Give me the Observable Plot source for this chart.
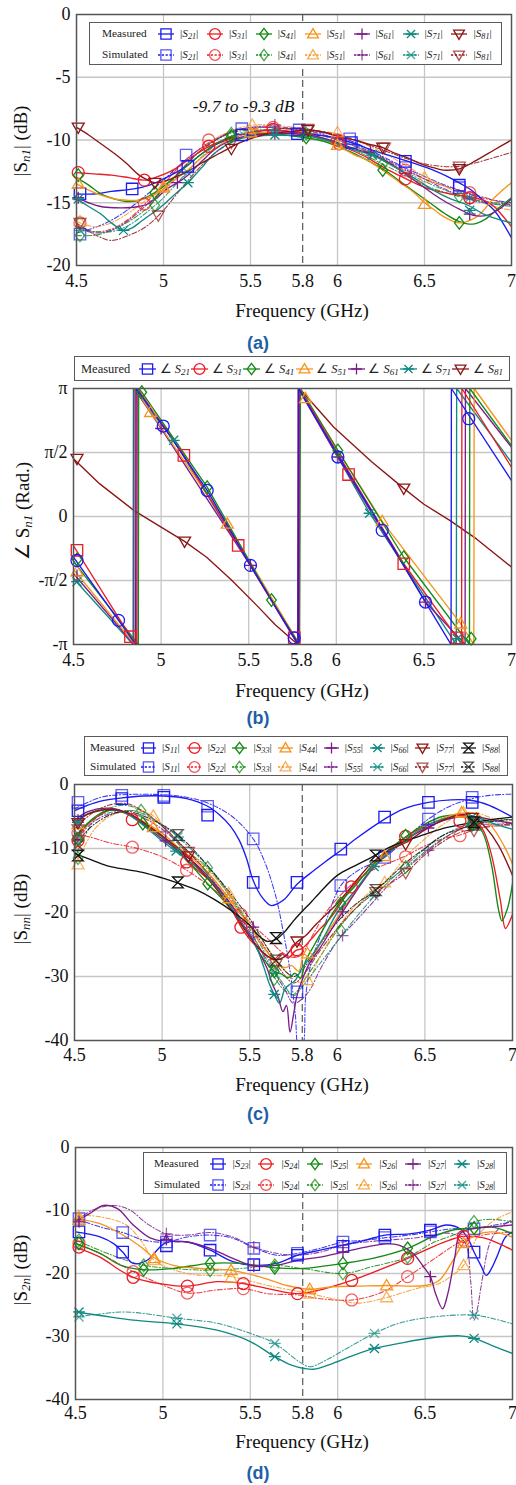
<!DOCTYPE html>
<html><head><meta charset="utf-8">
<script src="https://cdn.jsdelivr.net/npm/d3@7"></script>
<script src="https://cdn.jsdelivr.net/npm/@observablehq/plot@0.6"></script>
<style>
html,body{margin:0;padding:0;background:#fff;}
#root{position:relative;width:516px;height:1485px;overflow:hidden;font-family:"Liberation Serif","Times New Roman",serif;color:#111;}
#root svg text{font-family:"Liberation Serif","Times New Roman",serif;}
.cap{position:absolute;left:0;width:516px;text-align:center;font:bold 18px "Liberation Sans",Arial,sans-serif;color:#1f5fa6;line-height:1;transform:translateY(-50%);}
.legend{position:absolute;background:#fff;border:1.4px solid #5a5a5a;box-sizing:border-box;}
.legend .t{position:absolute;line-height:1;white-space:nowrap;transform:translateY(-50%);color:#222;}
.legend svg{position:absolute;overflow:visible;}
.sub{font-size:0.72em;font-style:italic;position:relative;top:0.3em;}
</style></head>
<body><div id="root"></div>
<script>
// ---------------- shared ----------------
const xTicks = [4.5, 5, 5.5, 5.8, 6, 6.5, 7];
const xGrid = [5, 5.5, 6, 6.5];
const COL = {blue:"#1b1bf2", red:"#ec1c24", green:"#138a13", orange:"#f7941d", purple:"#7b1d89", teal:"#108a80", brown:"#8c1616", black:"#111111"};

// ---------------- panel (a) |Sn1| ----------------
const aYTicks = [0, -5, -10, -15, -20];
const aYGrid = [-5, -10, -15];
const aAnnot = [{x: 5.46, y: -7.3, t: "-9.7 to -9.3 dB"}];
const aLabels = ["21","31","41","51","61","71","81"];
const aColors = ["blue","red","green","orange","purple","teal","brown"];
const aSyms = ["square","circle","diamond","triUp","plus","star","triDown"];

const a_m21 = [[4.5,-14.3],[4.6,-14.3],[4.7,-14.1],[4.83,-13.9],[4.92,-13.6],[5.0,-13.1],[5.07,-12.6],[5.14,-12.0],[5.22,-11.1],[5.31,-10.3],[5.38,-9.9],[5.44,-9.6],[5.52,-9.45],[5.6,-9.4],[5.7,-9.4],[5.77,-9.45],[5.88,-9.6],[5.98,-9.8],[6.08,-10.2],[6.2,-10.8],[6.36,-11.5],[6.45,-11.9],[6.55,-12.4],[6.63,-12.9],[6.71,-13.5],[6.77,-14.0],[6.82,-14.6],[6.9,-15.6],[6.95,-16.6],[7.0,-17.8]];
const a_m21_k = [[4.52,-14.3],[4.82,-13.9],[5.14,-12.1],[5.45,-9.6],[5.77,-9.5],[6.08,-10.2],[6.39,-11.7],[6.7,-13.6]];
const a_m31 = [[4.5,-12.6],[4.6,-12.7],[4.7,-12.8],[4.8,-13.0],[4.89,-13.2],[4.97,-12.9],[5.04,-12.5],[5.1,-12.0],[5.18,-11.2],[5.25,-10.6],[5.33,-10.1],[5.4,-9.8],[5.5,-9.4],[5.63,-9.2],[5.72,-9.3],[5.8,-9.4],[5.9,-9.8],[6.0,-10.3],[6.08,-10.8],[6.17,-11.4],[6.28,-12.3],[6.38,-13.0],[6.47,-13.6],[6.55,-14.0],[6.65,-14.3],[6.75,-14.5],[6.84,-14.8],[6.9,-15.3],[6.94,-15.9],[7.0,-16.9]];
const a_m31_k = [[4.51,-12.6],[4.89,-13.2],[5.26,-10.5],[5.63,-9.15],[6.01,-10.3],[6.39,-13.1],[6.76,-14.6]];
const a_m41 = [[4.5,-13.0],[4.57,-13.6],[4.64,-14.3],[4.72,-14.7],[4.79,-14.9],[4.86,-14.8],[4.91,-14.5],[4.98,-13.9],[5.06,-13.0],[5.14,-12.0],[5.22,-11.1],[5.29,-10.4],[5.36,-9.9],[5.42,-9.6],[5.5,-9.5],[5.6,-9.5],[5.7,-9.6],[5.81,-9.8],[5.92,-10.1],[6.02,-10.6],[6.1,-11.1],[6.17,-11.6],[6.27,-12.4],[6.36,-13.3],[6.46,-14.3],[6.55,-15.2],[6.62,-15.9],[6.7,-16.5],[6.78,-16.7],[6.85,-16.3],[6.92,-15.5],[7.0,-14.6]];
const a_m41_k = [[4.51,-12.8],[4.95,-14.2],[5.39,-9.7],[5.82,-9.8],[6.26,-12.4],[6.7,-16.6]];
const a_m51 = [[4.5,-13.5],[4.57,-14.0],[4.64,-14.4],[4.72,-14.7],[4.79,-14.8],[4.86,-14.8],[4.93,-14.5],[5.02,-13.7],[5.1,-12.8],[5.14,-12.4],[5.22,-11.4],[5.29,-10.7],[5.36,-10.1],[5.44,-9.6],[5.52,-9.45],[5.63,-9.4],[5.75,-9.5],[5.83,-9.6],[5.93,-10.0],[6.02,-10.6],[6.1,-11.2],[6.17,-11.6],[6.27,-12.5],[6.36,-13.4],[6.44,-14.2],[6.51,-15.1],[6.56,-15.6],[6.61,-16.1],[6.7,-16.6],[6.79,-16.2],[6.84,-15.6],[6.88,-14.9],[6.94,-14.1],[7.0,-13.4]];
const a_m51_k = [[4.51,-13.5],[5.0,-13.8],[5.5,-9.4],[6.0,-10.4],[6.5,-15.1]];
const a_m61 = [[4.5,-14.6],[4.57,-15.0],[4.64,-15.3],[4.72,-15.4],[4.79,-15.4],[4.86,-15.3],[4.91,-15.1],[4.97,-14.5],[5.02,-13.9],[5.08,-13.4],[5.14,-12.8],[5.22,-11.7],[5.29,-10.8],[5.36,-10.2],[5.44,-9.8],[5.52,-9.6],[5.64,-9.5],[5.75,-9.5],[5.83,-9.6],[5.93,-9.9],[6.02,-10.3],[6.1,-10.7],[6.19,-11.1],[6.27,-11.6],[6.36,-12.4],[6.46,-13.4],[6.55,-14.3],[6.63,-15.0],[6.7,-15.5],[6.78,-16.0],[6.86,-16.0],[6.93,-15.5],[7.0,-14.7]];
const a_m61_k = [[4.51,-14.6],[5.08,-13.4],[5.64,-9.5],[6.19,-11.0],[6.76,-15.9]];
const a_m71 = [[4.5,-14.7],[4.57,-15.3],[4.64,-15.9],[4.7,-16.6],[4.77,-17.2],[4.82,-17.0],[4.87,-16.5],[4.93,-15.9],[4.98,-15.4],[5.06,-14.4],[5.14,-13.4],[5.22,-12.2],[5.29,-11.1],[5.36,-10.4],[5.44,-9.9],[5.52,-9.7],[5.64,-9.6],[5.75,-9.65],[5.83,-9.7],[5.93,-10.0],[6.02,-10.4],[6.1,-10.8],[6.2,-11.2],[6.27,-11.7],[6.36,-12.4],[6.46,-13.2],[6.55,-14.0],[6.65,-14.7],[6.75,-15.2],[6.84,-15.9],[6.92,-16.3],[7.0,-16.6]];
const a_m71_k = [[4.51,-14.7],[4.77,-17.2],[5.14,-13.4],[5.64,-9.6],[6.2,-11.2],[6.76,-15.6]];
const a_m81 = [[4.5,-9.0],[4.57,-9.6],[4.64,-10.3],[4.72,-11.1],[4.79,-11.9],[4.86,-12.8],[4.91,-13.2],[4.95,-13.4],[5.0,-13.3],[5.06,-13.0],[5.14,-12.5],[5.21,-11.9],[5.29,-11.3],[5.37,-10.7],[5.44,-10.2],[5.52,-9.8],[5.6,-9.5],[5.67,-9.4],[5.75,-9.3],[5.83,-9.2],[5.93,-9.4],[6.02,-9.8],[6.1,-10.0],[6.17,-10.3],[6.26,-10.6],[6.32,-11.0],[6.4,-11.4],[6.48,-11.9],[6.55,-12.2],[6.61,-12.4],[6.7,-12.3],[6.8,-11.6],[6.9,-10.8],[7.0,-10.0]];
const a_m81_k = [[4.51,-9.0],[4.95,-13.4],[5.39,-10.7],[5.83,-9.2],[6.26,-10.6],[6.7,-12.3]];

const a_s21 = [[4.5,-17.4],[4.6,-17.0],[4.7,-16.4],[4.8,-15.5],[4.9,-14.4],[5.0,-13.2],[5.1,-11.9],[5.2,-10.8],[5.3,-10.0],[5.4,-9.3],[5.5,-9.0],[5.6,-9.0],[5.7,-9.1],[5.8,-9.2],[5.9,-9.4],[6.0,-9.7],[6.1,-10.2],[6.2,-10.9],[6.3,-11.6],[6.4,-12.3],[6.5,-12.9],[6.6,-13.5],[6.7,-14.0],[6.8,-14.5],[6.9,-14.8],[7.0,-15.0]];
const a_s21_k = [[4.52,-17.5],[5.13,-11.2],[5.45,-9.1],[5.78,-9.2],[6.07,-9.9],[6.39,-12.2],[6.7,-13.8]];
const a_s31 = [[4.5,-16.8],[4.6,-17.3],[4.7,-17.1],[4.8,-16.3],[4.9,-15.0],[5.0,-13.5],[5.1,-12.0],[5.2,-10.8],[5.3,-9.9],[5.4,-9.3],[5.5,-9.1],[5.6,-9.0],[5.7,-9.1],[5.8,-9.3],[5.9,-9.6],[6.0,-10.0],[6.1,-10.5],[6.2,-11.1],[6.3,-11.8],[6.4,-12.5],[6.5,-13.1],[6.6,-13.6],[6.7,-14.0],[6.8,-14.4],[6.9,-14.8],[7.0,-15.2]];
const a_s31_k = [[4.52,-16.6],[4.89,-15.1],[5.26,-10.0],[5.63,-9.0],[6.0,-10.0],[6.39,-12.4],[6.76,-14.2]];
const a_s41 = [[4.5,-17.6],[4.6,-17.6],[4.7,-17.2],[4.8,-16.5],[4.9,-15.5],[5.0,-14.1],[5.1,-12.5],[5.2,-11.0],[5.3,-10.0],[5.4,-9.4],[5.5,-9.2],[5.6,-9.2],[5.7,-9.3],[5.8,-9.5],[5.9,-9.8],[6.0,-10.2],[6.1,-10.8],[6.2,-11.5],[6.3,-12.2],[6.4,-12.9],[6.5,-13.6],[6.6,-14.1],[6.7,-14.5],[6.8,-14.8],[6.9,-15.0],[7.0,-15.1]];
const a_s41_k = [[4.52,-17.6],[4.95,-15.2],[5.39,-9.5],[5.82,-9.5],[6.26,-11.9],[6.7,-14.5]];
const a_s51 = [[4.5,-16.5],[4.6,-16.9],[4.7,-16.6],[4.8,-15.8],[4.9,-14.8],[5.0,-13.7],[5.1,-12.4],[5.2,-11.0],[5.3,-9.9],[5.4,-9.2],[5.5,-8.85],[5.6,-8.8],[5.7,-8.9],[5.8,-9.1],[5.9,-9.3],[6.0,-9.5],[6.1,-10.0],[6.2,-10.6],[6.3,-11.3],[6.4,-12.1],[6.5,-12.9],[6.6,-13.6],[6.7,-14.2],[6.8,-14.8],[6.9,-15.3],[7.0,-15.6]];
const a_s51_k = [[4.52,-16.5],[5.0,-13.7],[5.51,-8.8],[6.0,-9.4],[6.5,-13.0]];
const a_s61 = [[4.5,-16.9],[4.6,-17.4],[4.7,-17.2],[4.8,-16.4],[4.9,-15.2],[5.0,-13.9],[5.1,-12.4],[5.2,-11.0],[5.3,-10.0],[5.4,-9.3],[5.5,-9.0],[5.6,-8.9],[5.7,-9.0],[5.8,-9.2],[5.9,-9.5],[6.0,-9.9],[6.1,-10.4],[6.2,-11.0],[6.3,-11.7],[6.4,-12.4],[6.5,-13.1],[6.6,-13.8],[6.7,-14.4],[6.8,-14.9],[6.9,-15.1],[7.0,-15.2]];
const a_s61_k = [[5.08,-12.6],[5.64,-8.8],[6.19,-10.9],[6.76,-14.7]];
const a_s71 = [[4.5,-17.0],[4.6,-17.3],[4.7,-17.3],[4.8,-16.8],[4.9,-15.8],[5.0,-14.6],[5.1,-13.1],[5.2,-11.6],[5.3,-10.4],[5.4,-9.6],[5.5,-9.3],[5.6,-9.2],[5.7,-9.3],[5.8,-9.4],[5.9,-9.6],[6.0,-10.0],[6.1,-10.5],[6.2,-11.2],[6.3,-11.9],[6.4,-12.6],[6.5,-13.3],[6.6,-13.9],[6.7,-14.4],[6.8,-14.8],[6.9,-15.1],[7.0,-15.3]];
const a_s71_k = [[4.52,-17.2],[5.14,-12.6],[5.64,-9.2],[6.2,-11.2],[6.76,-14.6]];
const a_s81 = [[4.5,-16.6],[4.6,-17.5],[4.7,-18.0],[4.8,-17.6],[4.9,-16.9],[5.0,-15.6],[5.1,-13.9],[5.2,-12.3],[5.3,-11.0],[5.4,-10.1],[5.5,-9.5],[5.6,-9.2],[5.7,-9.1],[5.8,-9.1],[5.9,-9.3],[6.0,-9.6],[6.1,-10.0],[6.2,-10.5],[6.3,-11.0],[6.4,-11.5],[6.5,-11.9],[6.6,-12.1],[6.7,-12.1],[6.8,-11.8],[6.9,-11.4],[7.0,-11.0]];
const a_s81_k = [[4.52,-16.6],[4.97,-16.0],[5.39,-10.2],[5.83,-9.1],[6.27,-10.6],[6.7,-12.1]];

// ---------------- panel (b) angle Sn1 ----------------
const bYTicks = [-Math.PI, -Math.PI/2, 0, Math.PI/2, Math.PI];
const bYLabels = ["-π", "-π/2", "0", "π/2", "π"];
const bYGrid = [-Math.PI/2, 0, Math.PI/2];
const P = Math.PI;
const b_21 = [[4.5,-1.0],[4.757,-2.55],[4.855,-P],[4.857,P],[5.012,2.22],[5.263,0.64],[5.51,-1.2],[5.76,-2.98],[5.783,-P],[5.785,P],[6.009,1.5],[6.262,-0.3],[6.509,-2.1],[6.655,-P],[6.657,P],[7.0,0.88]];
const b_21_k = [[4.52,-1.08],[4.757,-2.55],[5.012,2.22],[5.263,0.64],[5.51,-1.2],[5.76,-2.98],[6.009,1.46],[6.262,-0.34],[6.509,-2.1],[6.756,2.4]];
const b_31 = [[4.5,-0.72],[4.825,-2.95],[4.862,-P],[4.864,P],[5.13,1.5],[5.44,-0.71],[5.76,-2.98],[5.787,-P],[5.789,P],[6.07,1.1],[6.385,-1.16],[6.69,-2.98],[6.715,-P],[6.717,P],[7.0,1.21]];
const b_31_k = [[4.52,-0.83],[4.825,-2.95],[5.13,1.5],[5.44,-0.71],[5.76,-2.98],[6.07,1.03],[6.385,-1.16],[6.69,-2.98]];
const b_41 = [[4.5,-1.1],[4.87,-P],[4.872,P],[4.89,3.05],[5.263,0.72],[5.63,-2.05],[5.79,-P],[5.795,P],[6.009,1.62],[6.385,-1.0],[6.76,-P],[6.762,P],[7.0,1.74]];
const b_41_k = [[4.52,-1.05],[4.89,3.05],[5.263,0.72],[5.63,-2.05],[6.009,1.62],[6.385,-1.0],[6.77,-3.0]];
const b_51 = [[4.5,-1.3],[4.85,-P],[4.852,P],[4.94,2.56],[5.378,-0.18],[5.79,-P],[5.792,P],[5.824,2.9],[6.262,-0.12],[6.71,-2.63],[6.785,-P],[6.787,P],[7.0,1.87]];
const b_51_k = [[4.52,-1.35],[4.94,2.56],[5.378,-0.18],[5.824,2.9],[6.262,-0.12],[6.71,-2.63]];
const b_61 = [[4.5,-1.4],[4.845,-P],[4.847,P],[5.0,2.16],[5.51,-1.2],[5.78,-P],[5.782,P],[6.009,1.46],[6.509,-2.1],[6.735,-P],[6.737,P],[7.0,1.7]];
const b_61_k = [[4.52,-1.45],[5.0,2.16],[5.51,-1.2],[6.009,1.46],[6.509,-2.1]];
const b_71 = [[4.5,-1.52],[4.84,-P],[4.842,P],[5.072,1.87],[5.63,-2.05],[5.785,-P],[5.787,P],[6.19,0.08],[6.685,-P],[6.687,P],[7.0,1.33]];
const b_71_k = [[4.52,-1.6],[5.072,1.87],[6.19,0.08],[6.69,-3.0]];
const b_81 = [[4.5,1.42],[4.65,0.8],[4.844,0.15],[5.0,-0.26],[5.134,-0.61],[5.26,-1.0],[5.4,-1.55],[5.55,-2.2],[5.65,-2.65],[5.78,-P],[5.79,P],[5.986,2.19],[6.2,1.35],[6.385,0.69],[6.5,0.3],[6.65,-0.1],[6.8,-0.55],[7.0,-1.24]];
const b_81_k = [[4.52,1.42],[5.134,-0.61],[6.385,0.69]];

// ---------------- panel (c) |Snn| ----------------
const cYTicks = [0, -10, -20, -30, -40];
const cYGrid = [-10, -20, -30];
const cLabels = ["11","22","33","44","55","66","77","88"];
const cColors = ["blue","red","green","orange","purple","teal","brown","black"];
const cSyms = ["square","circle","diamond","triUp","plus","star","triDown","hourglass"];

const c_m11 = [[4.5,-4.1],[4.57,-3.3],[4.65,-2.6],[4.77,-2.1],[4.89,-1.8],[5.01,-1.8],[5.14,-2.2],[5.26,-3.4],[5.33,-4.8],[5.39,-6.5],[5.44,-8.7],[5.48,-11.4],[5.52,-15.0],[5.57,-17.6],[5.62,-18.9],[5.66,-18.6],[5.7,-17.9],[5.77,-15.6],[5.84,-14.0],[5.93,-12.1],[6.02,-10.3],[6.12,-8.2],[6.27,-5.4],[6.38,-3.8],[6.52,-2.8],[6.65,-2.4],[6.77,-2.5],[6.87,-3.3],[7.0,-5.1]];
const c_m11_k = [[4.52,-4.1],[4.77,-2.2],[5.01,-2.0],[5.26,-4.8],[5.52,-15.3],[5.77,-15.3],[6.02,-10.1],[6.27,-5.1],[6.52,-2.8],[6.77,-2.8]];
const c_m22 = [[4.5,-8.8],[4.55,-7.0],[4.62,-5.2],[4.72,-3.9],[4.83,-5.0],[4.92,-6.5],[5.0,-8.0],[5.08,-10.0],[5.14,-11.9],[5.22,-13.8],[5.3,-15.7],[5.38,-18.5],[5.45,-22.2],[5.5,-24.2],[5.55,-25.6],[5.6,-26.8],[5.64,-27.3],[5.68,-26.4],[5.72,-27.1],[5.76,-26.0],[5.8,-25.6],[5.85,-24.2],[5.9,-22.6],[5.95,-21.2],[6.0,-19.4],[6.08,-16.2],[6.15,-14.2],[6.25,-11.5],[6.38,-8.4],[6.5,-6.5],[6.6,-5.5],[6.7,-5.1],[6.77,-5.4],[6.83,-7.0],[6.88,-11.0],[6.93,-18.0],[6.96,-22.5],[6.99,-21.0],[7.0,-20.3]];
const c_m22_k = [[4.52,-8.75],[4.83,-5.5],[5.14,-12.1],[5.45,-22.3],[5.77,-25.8],[6.08,-16.0],[6.39,-8.1],[6.7,-5.7]];
const c_m33 = [[4.5,-8.3],[4.56,-6.5],[4.63,-4.8],[4.72,-3.9],[4.82,-4.8],[4.89,-6.0],[5.0,-8.2],[5.1,-10.6],[5.18,-13.0],[5.26,-15.5],[5.34,-17.8],[5.42,-20.5],[5.5,-23.5],[5.56,-26.6],[5.6,-28.0],[5.64,-29.2],[5.68,-29.6],[5.72,-30.2],[5.76,-29.5],[5.79,-30.3],[5.82,-27.5],[5.86,-25.5],[5.92,-22.6],[6.0,-19.0],[6.1,-15.9],[6.2,-12.6],[6.3,-10.0],[6.39,-8.2],[6.5,-6.2],[6.6,-5.0],[6.7,-4.8],[6.77,-5.6],[6.83,-7.5],[6.88,-12.5],[6.92,-19.5],[6.94,-21.3],[6.97,-19.5],[7.0,-15.5]];
const c_m33_k = [[4.52,-8.5],[4.89,-6.1],[5.26,-15.5],[5.64,-29.2],[6.02,-18.6],[6.39,-8.0],[6.77,-6.1]];
const c_m44 = [[4.5,-6.2],[4.58,-4.6],[4.68,-3.8],[4.76,-4.0],[4.86,-5.3],[5.0,-7.6],[5.1,-10.0],[5.2,-12.2],[5.3,-15.0],[5.38,-17.8],[5.45,-20.3],[5.5,-22.0],[5.56,-24.8],[5.6,-26.2],[5.65,-27.9],[5.7,-28.6],[5.74,-28.3],[5.78,-29.2],[5.81,-26.5],[5.85,-27.4],[5.9,-25.0],[6.0,-20.8],[6.1,-16.8],[6.2,-13.0],[6.3,-10.4],[6.4,-8.4],[6.5,-6.6],[6.6,-5.3],[6.7,-4.5],[6.8,-4.7],[6.88,-6.5],[6.95,-9.5],[7.0,-12.4]];
const c_m44_k = [[4.52,-6.2],[4.95,-6.7],[5.38,-17.8],[5.83,-26.4],[6.27,-11.2],[6.71,-4.4]];
const c_m55 = [[4.5,-5.6],[4.58,-4.2],[4.7,-3.7],[4.8,-4.5],[5.0,-8.5],[5.1,-10.5],[5.2,-12.6],[5.3,-15.5],[5.4,-19.0],[5.46,-21.8],[5.5,-23.4],[5.55,-26.0],[5.6,-28.8],[5.63,-31.2],[5.66,-33.0],[5.69,-35.5],[5.71,-34.5],[5.73,-38.7],[5.75,-36.0],[5.77,-33.0],[5.8,-30.5],[5.84,-28.0],[5.9,-25.6],[6.0,-21.2],[6.1,-17.0],[6.2,-13.2],[6.3,-10.5],[6.4,-8.5],[6.5,-6.9],[6.6,-5.7],[6.7,-5.0],[6.8,-5.1],[6.9,-5.6],[7.0,-6.1]];
const c_m55_k = [[4.52,-5.6],[5.02,-8.8],[5.52,-22.3],[6.03,-19.9],[6.52,-6.8]];
const c_m66 = [[4.5,-5.9],[4.58,-4.5],[4.7,-3.9],[4.8,-4.6],[5.0,-8.8],[5.1,-10.9],[5.2,-13.0],[5.3,-15.8],[5.4,-19.4],[5.48,-22.8],[5.54,-25.5],[5.58,-28.5],[5.61,-31.0],[5.64,-32.8],[5.67,-34.2],[5.7,-32.0],[5.73,-31.2],[5.76,-30.6],[5.8,-28.6],[5.86,-26.5],[5.92,-24.0],[6.0,-20.0],[6.1,-16.6],[6.2,-13.1],[6.3,-10.5],[6.4,-8.5],[6.5,-6.6],[6.6,-5.4],[6.7,-4.9],[6.8,-5.2],[6.9,-6.2],[7.0,-7.0]];
const c_m66_k = [[4.52,-5.9],[5.08,-10.4],[5.64,-32.8],[6.21,-12.8],[6.77,-5.1]];
const c_m77 = [[4.5,-6.0],[4.58,-4.6],[4.7,-3.9],[4.8,-4.4],[5.0,-8.0],[5.15,-11.4],[5.3,-16.0],[5.4,-19.8],[5.45,-21.8],[5.5,-23.8],[5.55,-25.5],[5.6,-26.8],[5.65,-27.4],[5.7,-26.9],[5.74,-25.6],[5.77,-24.6],[5.82,-23.6],[5.88,-21.8],[6.0,-18.6],[6.1,-15.3],[6.2,-12.2],[6.3,-10.2],[6.39,-9.1],[6.5,-7.1],[6.6,-5.6],[6.7,-4.7],[6.77,-4.9],[6.85,-6.8],[6.92,-9.5],[7.0,-14.2]];
const c_m77_k = [[4.52,-6.0],[5.15,-11.2],[5.77,-24.5],[6.39,-9.3],[6.77,-5.2]];
const c_m88 = [[4.5,-10.8],[4.6,-11.8],[4.7,-12.8],[4.8,-13.3],[4.9,-13.8],[5.0,-14.6],[5.1,-15.5],[5.2,-16.5],[5.3,-18.0],[5.4,-19.8],[5.5,-22.0],[5.55,-23.6],[5.6,-24.5],[5.65,-24.2],[5.7,-23.0],[5.75,-21.3],[5.8,-19.8],[5.85,-18.4],[5.9,-16.9],[6.0,-14.2],[6.1,-12.7],[6.2,-11.3],[6.3,-9.8],[6.4,-8.7],[6.5,-7.8],[6.6,-6.9],[6.7,-6.3],[6.8,-5.8],[6.9,-5.4],[7.0,-5.1]];
const c_m88_k = [[4.52,-11.1],[5.09,-15.3],[5.65,-24.0],[6.22,-11.1],[6.78,-5.9]];

const c_s11 = [[4.5,-3.8],[4.65,-2.0],[4.77,-1.6],[5.01,-1.6],[5.14,-2.0],[5.26,-2.9],[5.4,-5.0],[5.52,-8.5],[5.59,-12.4],[5.65,-17.6],[5.69,-22.8],[5.73,-29.1],[5.76,-35.8],[5.78,-41],[5.8,-41],[5.82,-33],[5.85,-28],[5.93,-21.8],[6.02,-15.8],[6.12,-13.4],[6.27,-11.4],[6.4,-8.2],[6.52,-5.4],[6.65,-3.3],[6.77,-2.2],[6.87,-1.7],[7.0,-1.5]];
const c_s11_k = [[4.52,-2.8],[4.77,-1.7],[5.01,-1.7],[5.26,-3.4],[5.52,-8.5],[5.77,-32.4],[6.02,-15.8],[6.27,-11.4],[6.52,-5.4],[6.77,-2.0]];
const c_s22 = [[4.5,-7.6],[4.6,-8.3],[4.7,-9.1],[4.83,-9.8],[4.92,-10.5],[5.0,-11.3],[5.14,-13.4],[5.3,-16.5],[5.45,-20.3],[5.6,-24.0],[5.7,-26.5],[5.76,-27.0],[5.8,-26.3],[5.86,-23.5],[5.93,-20.2],[6.0,-17.8],[6.1,-15.2],[6.2,-13.4],[6.3,-12.2],[6.38,-11.3],[6.5,-9.6],[6.6,-8.5],[6.7,-7.9],[6.8,-6.9],[6.9,-6.3],[7.0,-6.0]];
const c_s22_k = [[4.52,-7.6],[4.83,-9.8],[5.14,-13.4],[5.45,-20.3],[5.77,-26.0],[6.39,-11.3],[6.7,-8.0]];
const c_s33 = [[4.5,-11.5],[4.56,-8.0],[4.63,-5.0],[4.72,-3.5],[4.8,-3.3],[4.88,-4.1],[5.0,-6.5],[5.1,-9.5],[5.26,-13.0],[5.4,-18.0],[5.5,-22.5],[5.6,-28.0],[5.65,-30.5],[5.7,-32.2],[5.75,-32.8],[5.8,-31.0],[5.9,-27.0],[6.0,-22.8],[6.1,-19.5],[6.2,-16.8],[6.3,-14.8],[6.39,-13.0],[6.5,-10.5],[6.6,-8.5],[6.7,-7.0],[6.8,-6.0],[6.9,-5.5],[7.0,-5.5]];
const c_s33_k = [[4.52,-11.5],[4.88,-4.1],[5.26,-13.0],[5.64,-30.4],[6.02,-22.8],[6.39,-12.9],[6.77,-6.3]];
const c_s44 = [[4.5,-12.5],[4.56,-9.5],[4.62,-6.8],[4.7,-5.0],[4.8,-4.1],[4.88,-4.2],[4.95,-4.9],[5.05,-7.8],[5.15,-10.5],[5.25,-13.0],[5.38,-17.0],[5.5,-21.5],[5.6,-25.5],[5.7,-29.0],[5.77,-30.8],[5.83,-30.6],[5.9,-27.0],[6.0,-22.5],[6.1,-19.0],[6.2,-16.5],[6.27,-15.3],[6.4,-11.0],[6.5,-8.5],[6.6,-6.3],[6.72,-4.6],[6.8,-4.5],[6.9,-5.4],[7.0,-6.0]];
const c_s44_k = [[4.52,-12.5],[4.95,-4.9],[5.38,-17.0],[5.83,-30.6],[6.27,-15.3],[6.72,-4.4]];
const c_s55 = [[4.5,-9.0],[4.6,-6.0],[4.7,-4.6],[4.8,-4.4],[4.9,-5.3],[5.02,-7.4],[5.2,-12.0],[5.4,-19.0],[5.5,-23.0],[5.6,-27.5],[5.7,-32.0],[5.75,-34.2],[5.8,-33.5],[5.85,-31.8],[5.9,-29.0],[6.0,-24.5],[6.1,-21.5],[6.2,-18.5],[6.3,-15.5],[6.4,-13.0],[6.52,-10.3],[6.6,-8.6],[6.7,-7.0],[6.8,-6.3],[6.9,-6.2],[7.0,-6.3]];
const c_s55_k = [[4.52,-8.8],[5.02,-7.4],[5.52,-23.8],[6.03,-23.6],[6.52,-10.3]];
const c_s66 = [[4.5,-8.0],[4.6,-5.5],[4.7,-4.4],[4.85,-4.2],[5.0,-6.3],[5.09,-8.2],[5.3,-14.0],[5.5,-22.0],[5.6,-27.0],[5.7,-31.5],[5.75,-33.0],[5.8,-31.6],[5.9,-28.0],[6.0,-24.5],[6.1,-21.0],[6.21,-17.5],[6.3,-15.0],[6.4,-12.5],[6.5,-10.0],[6.6,-8.0],[6.7,-6.7],[6.8,-6.0],[6.9,-5.8],[7.0,-6.0]];
const c_s66_k = [[4.52,-8.0],[5.09,-8.2],[5.64,-29.5],[6.21,-17.4],[6.77,-6.2]];
const c_s77 = [[4.5,-7.0],[4.6,-4.5],[4.7,-3.2],[4.8,-3.0],[4.9,-4.3],[5.0,-6.5],[5.15,-10.5],[5.3,-15.0],[5.5,-22.0],[5.65,-28.0],[5.75,-31.0],[5.8,-30.0],[5.9,-26.0],[6.0,-22.5],[6.1,-19.5],[6.22,-16.8],[6.3,-15.5],[6.39,-13.8],[6.5,-11.0],[6.6,-9.0],[6.7,-7.5],[6.78,-7.0],[6.9,-6.5],[7.0,-6.3]];
const c_s77_k = [[4.52,-7.0],[5.15,-10.5],[5.65,-28.0],[6.22,-16.8],[6.39,-13.8],[6.78,-7.2]];
const c_s88 = [[4.5,-9.5],[4.6,-6.5],[4.7,-4.8],[4.8,-4.2],[4.9,-5.0],[5.09,-7.9],[5.3,-14.0],[5.5,-21.0],[5.65,-27.5],[5.75,-30.0],[5.8,-29.0],[5.9,-25.0],[6.0,-21.5],[6.1,-18.8],[6.22,-16.5],[6.4,-12.0],[6.5,-10.0],[6.6,-8.0],[6.78,-6.3],[6.9,-5.7],[7.0,-5.5]];
const c_s88_k = [[4.52,-9.5],[5.09,-7.9],[5.65,-27.5],[6.22,-16.5],[6.78,-6.3]];

// ---------------- panel (d) |S2n| ----------------
const dLabels = ["23","24","25","26","27","28"];
const dColors = ["blue","red","green","orange","purple","teal"];
const dSyms = ["square","circle","diamond","triUp","plus","star"];

const d_m23 = [[4.5,-13.4],[4.64,-14.2],[4.72,-15.3],[4.77,-16.6],[4.83,-18.4],[4.91,-17.9],[4.97,-16.2],[5.01,-15.2],[5.14,-15.0],[5.27,-16.3],[5.4,-18.1],[5.52,-18.7],[5.65,-18.4],[5.77,-17.1],[5.9,-16.3],[6.03,-15.5],[6.16,-14.7],[6.27,-13.9],[6.41,-13.7],[6.53,-13.1],[6.62,-12.3],[6.7,-12.9],[6.75,-14.7],[6.78,-16.6],[6.82,-18.8],[6.85,-20.3],[6.88,-19.2],[6.91,-17.4],[6.96,-14.2],[7.0,-13.4]];
const d_m23_k = [[4.52,-13.4],[4.77,-16.6],[5.02,-15.6],[5.27,-16.3],[5.52,-18.6],[5.77,-17.1],[6.03,-15.7],[6.27,-13.9],[6.53,-13.1],[6.78,-16.6]];
const d_m24 = [[4.5,-15.8],[4.64,-17.4],[4.75,-19.4],[4.83,-20.6],[4.98,-21.6],[5.14,-22.0],[5.31,-21.3],[5.46,-21.6],[5.6,-22.4],[5.77,-23.2],[5.9,-22.6],[6.0,-21.8],[6.08,-21.1],[6.26,-19.2],[6.4,-17.6],[6.54,-15.8],[6.64,-14.7],[6.72,-14.1],[6.83,-14.3],[6.92,-15.2],[7.0,-16.3]];
const d_m24_k = [[4.52,-15.8],[4.83,-20.6],[5.14,-22.0],[5.46,-21.6],[5.77,-23.2],[6.08,-21.1],[6.4,-17.6],[6.72,-14.1]];
const d_m25 = [[4.5,-15.2],[4.64,-16.8],[4.76,-18.7],[4.89,-19.4],[5.06,-19.2],[5.27,-18.4],[5.44,-18.4],[5.64,-19.1],[5.8,-19.2],[6.03,-18.4],[6.2,-17.6],[6.4,-16.0],[6.54,-14.2],[6.66,-13.1],[6.78,-12.8],[6.88,-12.6],[7.0,-13.7]];
const d_m25_k = [[4.52,-15.2],[4.89,-19.4],[5.27,-18.4],[5.64,-19.1],[6.03,-18.4],[6.4,-16.0],[6.78,-12.8]];
const d_m26 = [[4.5,-11.3],[4.64,-12.1],[4.79,-14.2],[4.88,-15.9],[4.95,-17.5],[5.06,-18.7],[5.21,-19.2],[5.39,-19.5],[5.55,-20.5],[5.71,-21.9],[5.84,-22.5],[5.97,-22.1],[6.12,-22.0],[6.28,-21.9],[6.5,-21.9],[6.58,-21.1],[6.66,-17.9],[6.72,-15.2],[6.79,-13.9],[6.88,-13.4],[7.0,-14.2]];
const d_m26_k = [[4.52,-11.5],[4.95,-17.6],[5.39,-19.5],[5.84,-22.5],[6.28,-21.9],[6.72,-15.2]];
const d_m27 = [[4.5,-11.8],[4.58,-10.5],[4.66,-9.2],[4.74,-9.7],[4.83,-12.3],[4.93,-14.4],[5.0,-14.7],[5.02,-13.9],[5.04,-14.8],[5.14,-15.0],[5.27,-16.0],[5.4,-17.6],[5.52,-18.8],[5.65,-18.7],[5.77,-17.9],[5.9,-17.4],[6.03,-16.6],[6.16,-15.8],[6.28,-15.3],[6.35,-15.5],[6.43,-16.8],[6.49,-18.9],[6.53,-20.5],[6.56,-23.2],[6.6,-25.6],[6.63,-23.2],[6.67,-17.4],[6.7,-13.7],[6.77,-12.9],[6.88,-12.6],[7.0,-12.3]];
const d_m27_k = [[4.52,-11.8],[5.02,-14.6],[5.52,-18.8],[6.03,-16.6],[6.53,-20.5]];
const d_m28 = [[4.5,-26.1],[4.65,-26.7],[4.83,-27.4],[5.08,-28.0],[5.31,-29.0],[5.5,-30.8],[5.64,-33.2],[5.74,-34.6],[5.86,-35.2],[5.97,-34.3],[6.09,-33.0],[6.21,-31.9],[6.35,-31.1],[6.54,-30.2],[6.7,-29.9],[6.78,-30.3],[6.88,-31.4],[7.0,-32.7]];
const d_m28_k = [[4.52,-26.1],[5.08,-28.0],[5.64,-33.2],[6.21,-31.9],[6.78,-30.3]];

const d_s23 = [[4.5,-11.3],[4.64,-12.6],[4.77,-13.5],[4.89,-14.7],[5.02,-15.0],[5.14,-14.2],[5.27,-13.9],[5.4,-14.4],[5.52,-15.9],[5.65,-17.1],[5.77,-16.8],[5.9,-16.0],[6.03,-15.0],[6.16,-14.7],[6.28,-14.3],[6.41,-13.9],[6.53,-13.4],[6.66,-12.9],[6.78,-12.9],[6.9,-12.3],[7.0,-11.8]];
const d_s23_k = [[4.52,-11.3],[4.77,-13.5],[5.02,-15.0],[5.27,-13.9],[5.52,-16.0],[5.77,-16.8],[6.03,-15.0],[6.27,-14.3],[6.53,-13.4],[6.78,-12.9]];
const d_s24 = [[4.5,-15.2],[4.64,-16.8],[4.83,-19.7],[4.98,-21.6],[5.14,-23.1],[5.31,-22.6],[5.46,-22.4],[5.6,-23.2],[5.77,-23.4],[5.9,-24.0],[6.08,-24.2],[6.26,-22.9],[6.4,-20.5],[6.54,-17.9],[6.72,-14.7],[6.83,-13.9],[7.0,-13.4]];
const d_s24_k = [[4.52,-15.2],[4.83,-19.7],[5.14,-23.1],[5.46,-22.4],[6.08,-24.2],[6.4,-20.5],[6.72,-14.7]];
const d_s25 = [[4.5,-14.7],[4.7,-17.0],[4.89,-18.7],[5.06,-19.2],[5.27,-19.5],[5.45,-19.2],[5.64,-18.7],[5.82,-19.3],[6.03,-20.0],[6.2,-18.9],[6.4,-17.4],[6.54,-15.2],[6.7,-13.4],[6.78,-11.8],[6.88,-11.4],[7.0,-11.8]];
const d_s25_k = [[4.52,-14.7],[4.89,-18.7],[5.27,-19.5],[5.64,-18.7],[6.03,-20.0],[6.4,-17.4],[6.78,-11.8]];
const d_s26 = [[4.5,-10.7],[4.64,-11.0],[4.79,-12.3],[4.88,-15.0],[4.95,-17.9],[5.14,-20.0],[5.39,-20.5],[5.6,-21.9],[5.84,-23.2],[5.97,-24.0],[6.12,-24.7],[6.28,-23.8],[6.45,-22.4],[6.58,-21.6],[6.66,-20.2],[6.72,-18.7],[6.81,-13.7],[6.9,-11.5],[7.0,-10.2]];
const d_s26_k = [[4.52,-11.0],[4.95,-17.9],[5.39,-20.7],[5.84,-23.2],[6.28,-23.8],[6.72,-18.7]];
const d_s27 = [[4.5,-11.8],[4.6,-9.9],[4.72,-9.2],[4.81,-9.9],[4.91,-12.1],[5.02,-13.7],[5.14,-13.9],[5.27,-13.5],[5.4,-14.2],[5.52,-15.8],[5.65,-16.8],[5.77,-17.1],[5.9,-16.6],[6.03,-15.5],[6.16,-15.0],[6.28,-14.7],[6.43,-14.4],[6.54,-13.9],[6.66,-13.7],[6.73,-15.2],[6.76,-21.0],[6.78,-27.4],[6.8,-25.5],[6.82,-22.1],[6.87,-15.2],[6.92,-12.9],[7.0,-11.5]];
const d_s27_k = [[4.52,-11.5],[5.02,-13.7],[5.52,-15.8],[6.03,-15.5],[6.53,-13.9]];
const d_s28 = [[4.5,-26.9],[4.65,-26.4],[4.79,-26.1],[5.08,-27.1],[5.31,-27.9],[5.5,-29.5],[5.64,-31.1],[5.78,-34.0],[5.84,-34.8],[5.93,-33.8],[6.07,-31.6],[6.21,-29.5],[6.35,-27.9],[6.54,-26.9],[6.78,-26.6],[6.88,-27.1],[7.0,-28.0]];
const d_s28_k = [[4.52,-26.9],[5.08,-27.1],[5.64,-31.1],[6.21,-29.5],[6.78,-26.6]];

// ---------------- symbols ----------------
const SYM = {
  square:{draw(c,s){const r=Math.sqrt(s/Math.PI)*0.95;c.moveTo(-r,-r);c.lineTo(r,-r);c.lineTo(r,r);c.lineTo(-r,r);c.closePath();}},
  circle:{draw(c,s){const r=Math.sqrt(s/Math.PI);c.moveTo(r,0);c.arc(0,0,r,0,2*Math.PI);c.closePath();}},
  diamond:{draw(c,s){const r=Math.sqrt(s/Math.PI);c.moveTo(0,-r*1.05);c.lineTo(r*0.8,0);c.lineTo(0,r*1.05);c.lineTo(-r*0.8,0);c.closePath();}},
  triUp:{draw(c,s){const r=Math.sqrt(s/Math.PI);c.moveTo(0,-r);c.lineTo(r,r*0.72);c.lineTo(-r,r*0.72);c.closePath();}},
  triDown:{draw(c,s){const r=Math.sqrt(s/Math.PI);c.moveTo(0,r);c.lineTo(r,-r*0.72);c.lineTo(-r,-r*0.72);c.closePath();}},
  plus:{draw(c,s){const r=Math.sqrt(s/Math.PI);c.moveTo(0,-r);c.lineTo(0,r);c.moveTo(-r,0);c.lineTo(r,0);}},
  star:{draw(c,s){const r=Math.sqrt(s/Math.PI),k=r*0.75;c.moveTo(-k,-k);c.lineTo(k,k);c.moveTo(-k,k);c.lineTo(k,-k);c.moveTo(-r,0);c.lineTo(r,0);}},
  hourglass:{draw(c,s){const r=Math.sqrt(s/Math.PI)*0.9;c.moveTo(-r,-r);c.lineTo(r,-r);c.lineTo(-r,r);c.lineTo(r,r);c.closePath();}}
};

const DATA = {a_m21,a_m21_k,a_m31,a_m31_k,a_m41,a_m41_k,a_m51,a_m51_k,a_m61,a_m61_k,a_m71,a_m71_k,a_m81,a_m81_k,
a_s21,a_s21_k,a_s31,a_s31_k,a_s41,a_s41_k,a_s51,a_s51_k,a_s61,a_s61_k,a_s71,a_s71_k,a_s81,a_s81_k,
c_m11,c_m11_k,c_m22,c_m22_k,c_m33,c_m33_k,c_m44,c_m44_k,c_m55,c_m55_k,c_m66,c_m66_k,c_m77,c_m77_k,c_m88,c_m88_k,
c_s11,c_s11_k,c_s22,c_s22_k,c_s33,c_s33_k,c_s44,c_s44_k,c_s55,c_s55_k,c_s66,c_s66_k,c_s77,c_s77_k,c_s88,c_s88_k,
d_m23,d_m23_k,d_m24,d_m24_k,d_m25,d_m25_k,d_m26,d_m26_k,d_m27,d_m27_k,d_m28,d_m28_k,
d_s23,d_s23_k,d_s24,d_s24_k,d_s25,d_s25_k,d_s26,d_s26_k,d_s27,d_s27_k,d_s28,d_s28_k};
function ser(prefix, labels, colors, syms, sim) {
  return labels.map((lab, i) => ({line: DATA[prefix+lab], pts: DATA[prefix+lab+"_k"], c: colors[i], s: syms[i], sim}));
}

const root = document.getElementById("root");
const SERIF = '"Liberation Serif", "Times New Roman", serif';

function renderPanel(p) {
  const marks = [
    Plot.gridX({ticks: xGrid, stroke: "#c6c6c6", strokeOpacity: 1, strokeWidth: 1.3}),
    Plot.gridY({ticks: p.yGrid, stroke: "#c6c6c6", strokeOpacity: 1, strokeWidth: 1.3})
  ];
  if (p.dash) marks.push(Plot.ruleX([5.8], {stroke: "#4a4a4a", strokeWidth: 1.1, strokeDasharray: "7,4"}));
  const order = [...p.series.filter(s => s.sim), ...p.series.filter(s => !s.sim)];
  for (const s of order) {
    marks.push(Plot.line(s.line, {x: d => d[0], y: d => d[1], stroke: COL[s.c],
      strokeWidth: s.sim ? 1.05 : 1.35, strokeOpacity: s.sim ? 0.85 : 1,
      strokeDasharray: s.sim ? "5,2,1.2,2" : null, curve: p.curve, clip: true}));
  }
  for (const s of order) {
    if (!s.pts) continue;
    marks.push(Plot.dot(s.pts, {x: d => d[0], y: d => d[1], symbol: SYM[s.s], r: 6,
      stroke: COL[s.c], fill: "none", strokeWidth: 1.3, strokeOpacity: s.sim ? 0.7 : 1}));
  }
  if (p.annot) marks.push(Plot.text(p.annot, {x: "x", y: "y", text: "t", fontStyle: "italic", fontSize: 17.5, fill: "#111"}));
  marks.push(Plot.frame({stroke: "#555", strokeWidth: 1.5}));
  marks.push(Plot.axisX({ticks: xTicks, tickFormat: d => String(d), tickSize: 0, tickPadding: p.xPad, label: null, fontSize: 18}));
  marks.push(Plot.axisY({ticks: p.yTicks, tickFormat: p.yFmt, tickSize: 0, tickPadding: 6, label: null, fontSize: 18}));
  const svg = Plot.plot({
    width: 516, height: p.height,
    marginTop: p.mt, marginBottom: p.mb, marginLeft: p.ml, marginRight: p.mr,
    style: {"font-family": SERIF, "font-size": "18px", "background": "transparent", "color": "#111"},
    x: {domain: [4.5, 7]},
    y: {domain: p.yDomain},
    marks
  });
  svg.style.position = "absolute";
  svg.style.left = "0px";
  svg.style.top = p.top + "px";
  svg.style.fontFamily = SERIF;
  svg.style.background = "transparent";
  const s = d3.select(svg);
  s.append("text").attr("x", 302).attr("y", p.xTitleY).attr("text-anchor", "middle")
    .attr("font-size", 19).attr("fill", "#111").text("Frequency (GHz)");
  const yt = s.append("text").attr("transform", `translate(${p.yTitleX},${p.yTitleY}) rotate(-90)`)
    .attr("text-anchor", "middle").attr("dominant-baseline", "central").attr("font-size", 19).attr("fill", "#111");
  yt.append("tspan").text(p.yPre);
  yt.append("tspan").attr("font-size", 13).attr("font-style", "italic").attr("dy", 5).text(p.ySub);
  yt.append("tspan").attr("dy", -5).text(p.yPost);
  s.selectAll("text").style("font-family", SERIF);
  root.appendChild(svg);
}

function symSVG(k, color, sim, w) {
  const pth = d3.path(); SYM[k].draw(pth, 5.4 * 5.4 * Math.PI);
  return `<svg width="${w}" height="14" viewBox="${-w/2} -7 ${w} 14"><line x1="${-w/2}" x2="${w/2}" y1="0" y2="0" stroke="${color}" stroke-width="1.3" ${sim ? 'stroke-dasharray="2.2,1.6"' : ''}/><path d="${pth}" fill="none" stroke="${color}" stroke-width="1.3" ${sim ? 'stroke-opacity="0.75"' : ''}/></svg>`;
}

function renderLegend(L) {
  const box = document.createElement("div");
  box.className = "legend";
  Object.assign(box.style, {left: L.left + "px", top: L.top + "px", width: L.w + "px", height: L.h + "px", fontSize: L.font + "px"});
  L.rows.forEach((row, ri) => {
    const y = L.rowY[ri];
    const t = document.createElement("div");
    t.className = "t"; t.textContent = row.title;
    t.style.left = L.titleX + "px"; t.style.top = y + "px";
    box.appendChild(t);
    L.labels.forEach((lab, i) => {
      const x = L.symX + i * L.dx;
      const holder = document.createElement("div");
      holder.innerHTML = symSVG(L.syms[i], COL[L.colors[i]], row.sim, L.symW);
      const sv = holder.firstChild;
      sv.style.left = (x - L.symW / 2) + "px"; sv.style.top = (y - 7) + "px";
      box.appendChild(sv);
      const tl = document.createElement("div");
      tl.className = "t";
      tl.innerHTML = L.pre + `<i>S</i><span class="sub">${lab}</span>` + L.post;
      tl.style.left = (x + L.labelDx) + "px"; tl.style.top = y + "px";
      box.appendChild(tl);
    });
  });
  root.appendChild(box);
}

function caption(text, y) {
  const c = document.createElement("div");
  c.className = "cap"; c.textContent = text; c.style.top = y + "px";
  root.appendChild(c);
}

const numFmt = d => String(d);

// (a)
renderPanel({top: 0, height: 330, mt: 14, mb: 65, ml: 76, mr: 5, yDomain: [-20, 0], yTicks: aYTicks, yGrid: aYGrid,
  yFmt: numFmt, xPad: 9, dash: true, curve: "catmull-rom", annot: aAnnot,
  series: [...ser("a_s", aLabels, aColors, aSyms, true), ...ser("a_m", aLabels, aColors, aSyms, false)],
  xTitleY: 317, yTitleX: 20, yTitleY: 141, yPre: "|S", ySub: "n1", yPost: "| (dB)"});
renderLegend({left: 89, top: 22, w: 413, h: 43, rowY: [10.5, 32], titleX: 12, symX: 76, dx: 48.9, labelDx: 14, symW: 16, font: 11.3,
  labels: aLabels, colors: aColors, syms: aSyms, pre: "|", post: "|",
  rows: [{title: "Measured"}, {title: "Simulated", sim: true}]});
caption("(a)", 343);

// (b)
const bSeries = [
  {line: b_81, pts: b_81_k, c: "brown", s: "triDown"},
  {line: b_71, pts: b_71_k, c: "teal", s: "star"},
  {line: b_61, pts: b_61_k, c: "purple", s: "plus"},
  {line: b_51, pts: b_51_k, c: "orange", s: "triUp"},
  {line: b_41, pts: b_41_k, c: "green", s: "diamond"},
  {line: b_31, pts: b_31_k, c: "red", s: "square"},
  {line: b_21, pts: b_21_k, c: "blue", s: "circle"}
];
renderPanel({top: 350, height: 360, mt: 38, mb: 66, ml: 73, mr: 5, yDomain: [-Math.PI, Math.PI], yTicks: bYTicks, yGrid: bYGrid,
  yFmt: d => bYLabels[bYTicks.indexOf(d)], xPad: 9, dash: false, curve: "linear",
  series: bSeries, xTitleY: 347, yTitleX: 22, yTitleY: 161, yPre: "∠ S", ySub: "n1", yPost: " (Rad.)"});
renderLegend({left: 74, top: 356, w: 436, h: 25, rowY: [11.5], titleX: 6, symX: 72.5, dx: 52.2, labelDx: 12, symW: 17, font: 12.5,
  labels: aLabels, colors: aColors, syms: aSyms, pre: "∠ ", post: "",
  rows: [{title: "Measured"}]});
caption("(b)", 718);

// (c)
renderPanel({top: 728, height: 375, mt: 56, mb: 63, ml: 74, mr: 4, yDomain: [-40, 0], yTicks: cYTicks, yGrid: cYGrid,
  yFmt: numFmt, xPad: 8, dash: true, curve: "catmull-rom",
  series: [...ser("c_s", cLabels, cColors, cSyms, true), ...ser("c_m", cLabels, cColors, cSyms, false)],
  xTitleY: 363, yTitleX: 20, yTitleY: 181, yPre: "|S", ySub: "nn", yPost: "| (dB)"});
renderLegend({left: 84, top: 736, w: 424, h: 40, rowY: [10.5, 29.5], titleX: 5, symX: 63.5, dx: 45.7, labelDx: 13.5, symW: 15, font: 11.3,
  labels: cLabels, colors: cColors, syms: cSyms, pre: "|", post: "|",
  rows: [{title: "Measured"}, {title: "Simulated", sim: true}]});
caption("(c)", 1114);

// (d)
renderPanel({top: 1110, height: 350, mt: 37, mb: 61, ml: 75, mr: 4, yDomain: [-40, 0], yTicks: cYTicks, yGrid: cYGrid,
  yFmt: numFmt, xPad: 7, dash: true, curve: "catmull-rom",
  series: [...ser("d_s", dLabels, dColors, dSyms, true), ...ser("d_m", dLabels, dColors, dSyms, false)],
  xTitleY: 338, yTitleX: 20, yTitleY: 160, yPre: "|S", ySub: "2n", yPost: "| (dB)"});
renderLegend({left: 143, top: 1152, w: 364, h: 42, rowY: [10.5, 31.5], titleX: 10, symX: 73.5, dx: 48.9, labelDx: 15, symW: 16, font: 11.3,
  labels: dLabels, colors: dColors, syms: dSyms, pre: "|", post: "|",
  rows: [{title: "Measured"}, {title: "Simulated", sim: true}]});
caption("(d)", 1473);
</script>
</body></html>
